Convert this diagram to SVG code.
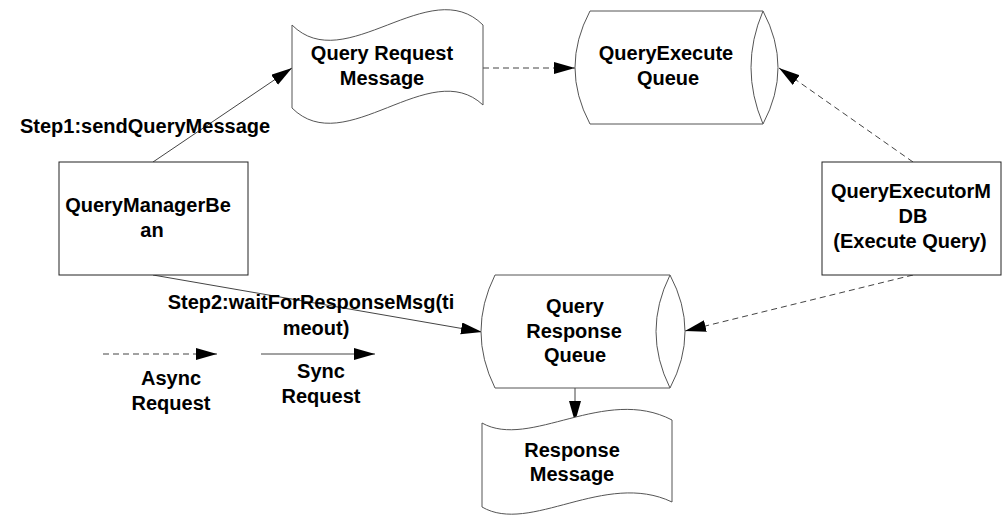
<svg xmlns="http://www.w3.org/2000/svg" width="1002" height="518" viewBox="0 0 1002 518">
<style>
.t{font-family:"Liberation Sans",Arial,sans-serif;font-weight:bold;font-size:20px;fill:#000}
.m{text-anchor:middle}
.shape{fill:#fff;stroke:#555;stroke-width:1}
.box{fill:#fff;stroke:#222;stroke-width:1}
.c{fill:none;stroke:#444;stroke-width:1}
.d{stroke-dasharray:6,4}
</style>
<defs>
<marker id="ah" markerUnits="userSpaceOnUse" markerWidth="22" markerHeight="14" refX="21" refY="6" orient="auto">
<path d="M0,0 L21,6 L0,12 z" fill="#000"/>
</marker>
</defs>
<rect width="1002" height="518" fill="#fff"/>
<g id="connectors">
<line class="c" x1="153" y1="162" x2="292" y2="68" marker-end="url(#ah)"/>
<line class="c d" x1="483" y1="68" x2="575" y2="68" stroke-dasharray="9,6" marker-end="url(#ah)"/>
<line class="c d" x1="913" y1="162" x2="779" y2="68" marker-end="url(#ah)"/>
<line class="c d" x1="913" y1="275" x2="685" y2="331" marker-end="url(#ah)"/>
<line class="c" x1="153" y1="275" x2="482" y2="332" marker-end="url(#ah)"/>
<line class="c" x1="575" y1="388" x2="575" y2="422" marker-end="url(#ah)"/>
</g>
<g id="legend">
<line class="c d" x1="103" y1="354" x2="217" y2="354" marker-end="url(#ah)"/>
<line class="c" x1="261" y1="354" x2="375" y2="354" marker-end="url(#ah)"/>
<text class="t m" x="171" y="385">Async</text>
<text class="t m" x="171" y="410">Request</text>
<text class="t m" x="321" y="378">Sync</text>
<text class="t m" x="321" y="403">Request</text>
</g>
<g id="labels">
<text class="t" x="20" y="133">Step1:sendQueryMessage</text>
<text class="t m" x="311" y="309">Step2:waitForResponseMsg(ti</text>
<text class="t m" x="316" y="335">meout)</text>
</g>
<g id="queryRequestMessage">
<path class="shape" d="M292,25 C345,78 430,-28 483,25 L483,105 C430,55 345,161 292,108 Z"/>
<text class="t m" x="382" y="60">Query Request</text>
<text class="t m" x="382" y="85">Message</text>
</g>
<g id="queryExecuteQueue">
<path class="shape" d="M590,11 L763,11 Q793,67.5 763,124 L590,124 Q560,67.5 590,11 Z"/>
<path class="shape" fill="none" d="M763,11 Q739,67.5 763,124"/>
<text class="t m" x="666" y="60">QueryExecute</text>
<text class="t m" x="668" y="85">Queue</text>
</g>
<g id="queryManagerBean">
<rect class="box" x="59" y="162" width="189" height="113"/>
<text class="t m" x="148" y="212">QueryManagerBe</text>
<text class="t m" x="152" y="237">an</text>
</g>
<g id="queryExecutorMDB">
<rect class="box" x="822" y="162" width="179" height="113"/>
<text class="t m" x="911" y="198">QueryExecutorM</text>
<text class="t m" x="913" y="223">DB</text>
<text class="t m" x="910" y="248">(Execute Query)</text>
</g>
<g id="queryResponseQueue">
<path class="shape" d="M495,275 L670,275 Q700,331.5 670,388 L495,388 Q467,331.5 495,275 Z"/>
<path class="shape" fill="none" d="M670,275 Q642,331.5 670,388"/>
<text class="t m" x="575" y="313">Query</text>
<text class="t m" x="574" y="338">Response</text>
<text class="t m" x="575" y="362">Queue</text>
</g>
<g id="responseMessage">
<path class="shape" d="M482,423 C530,450 605,385 672,420 L672,502 C605,470 530,535 482,507 Z"/>
<text class="t m" x="572" y="457">Response</text>
<text class="t m" x="572" y="481">Message</text>
</g>
</svg>
